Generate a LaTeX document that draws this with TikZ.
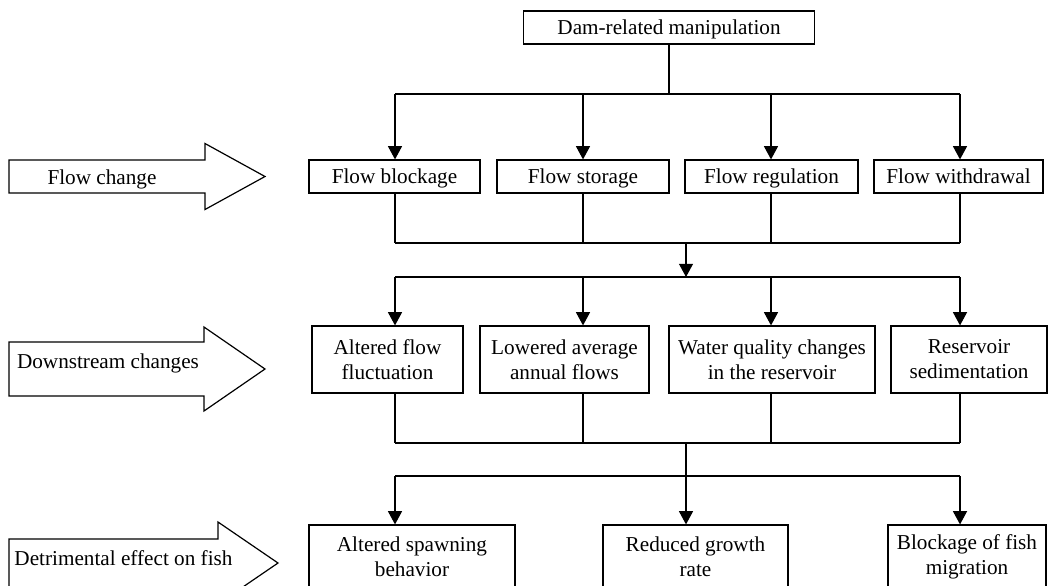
\documentclass[tikz,border=0pt]{standalone}
\usepackage{fontspec}
\setmainfont{Liberation Serif}
\usetikzlibrary{arrows.meta}

\tikzset{
  box/.style={draw, line width=0.6pt, inner sep=0pt, align=center},
  linebox/.style={box, text height=7.5pt, text depth=0.5pt},
  bigarrow/.style={draw, line width=0.6pt, line join=miter},
}

\begin{document}
\begin{tikzpicture}[x=0.5pt,y=-0.5pt,line width=0.55pt,>={Triangle[length=6.6pt,width=7pt]},font=\fontsize{10.6}{12.5}\selectfont]
      \useasboundingbox (0,0) rectangle (1048,585);
      \clip (0,0) rectangle (1048,585);
      % columns and bus lines
      \coordinate (c1) at (395,0);
      \coordinate (c2) at (583,0);
      \coordinate (c3) at (771,0);
      \coordinate (c4) at (960,0);
      \coordinate (cm) at (686,0);
      \coordinate (b1) at (669,94);
      \coordinate (b2) at (686,243);
      \coordinate (b3) at (686,277);
      \coordinate (b4) at (686,443);
      \coordinate (b5) at (686,476);
      \foreach \b in {b1,b2,b3,b4,b5}
        \draw (\b -| c1) -- (\b -| c4);
      % left arrows
      \foreach \nm/\yc/\body/\head/\base/\tip/\tx/\by/\lbl in {flow/176.5/16.5/33/205/265/102/184/Flow change, down/369/27/42/204/265/108/368/Downstream changes, fish/563/24/41/218/278/123.5/565/Detrimental effect on fish} {
        \draw[bigarrow] (9,\yc-\body) -- (\base,\yc-\body) -- (\base,\yc-\head) -- (\tip,\yc)
          -- (\base,\yc+\head) -- (\base,\yc+\body) -- (9,\yc+\body) -- cycle;
        \node[anchor=base, inner sep=0pt] (\nm) at (\tx,\by) {\lbl};
      }
      % top
      \node[linebox, minimum width=145.5pt, minimum height=16.5pt] (dam) at (669,27.5) {Dam-related manipulation};
      \draw (dam.south) -- (dam.south |- b1);
      % flow change
      \foreach \nm/\x/\w/\t [count=\i] in {blk/394.5/85.5/Flow blockage, sto/583/86/Flow storage, reg/771.5/86.5/Flow regulation, wdr/958.5/84.5/Flow withdrawal} {
        \node[linebox, minimum width=\w pt, minimum height=16.5pt] (\nm) at (\x,176.5) {\t};
        \draw[->] (b1 -| c\i) -- (c\i |- \nm.north);
        \draw (c\i |- \nm.south) -- (c\i |- b2);
      }
      \draw[->] (b2) -- (b3);
      % downstream changes
      \foreach \nm/\x/\w/\t [count=\i] in {alt/387.5/75.5/{Altered flow\\fluctuation}, low/564.5/84.5/{Lowered average\\annual flows}, wq/772/103/{Water quality changes\\in the reservoir}, sed/969/78/{Reservoir\\sedimentation}} {
        \node[box, minimum width=\w pt, minimum height=33.5pt] (\nm) at (\x,359.5) {\t};
        \draw[->] (b3 -| c\i) -- (c\i |- \nm.north);
        \draw (c\i |- \nm.south) -- (c\i |- b4);
      }
      % effects on fish
      \node[box, minimum width=103pt, minimum height=32pt] (spw) at (412,557) {Altered spawning\\behavior};
      \node[box, minimum width=92.5pt, minimum height=32pt] (grw) at (695.5,557) {Reduced growth\\rate};
      \node[box, minimum width=79pt, minimum height=32pt] (mig) at (967,557) {Blockage of fish\\migration};
      \draw[->] (b5 -| c1) -- (c1 |- spw.north);
      \draw[->] (b4) -- (cm |- grw.north);
      \draw[->] (b5 -| c4) -- (c4 |- mig.north);
   \end{tikzpicture}
\end{document}
